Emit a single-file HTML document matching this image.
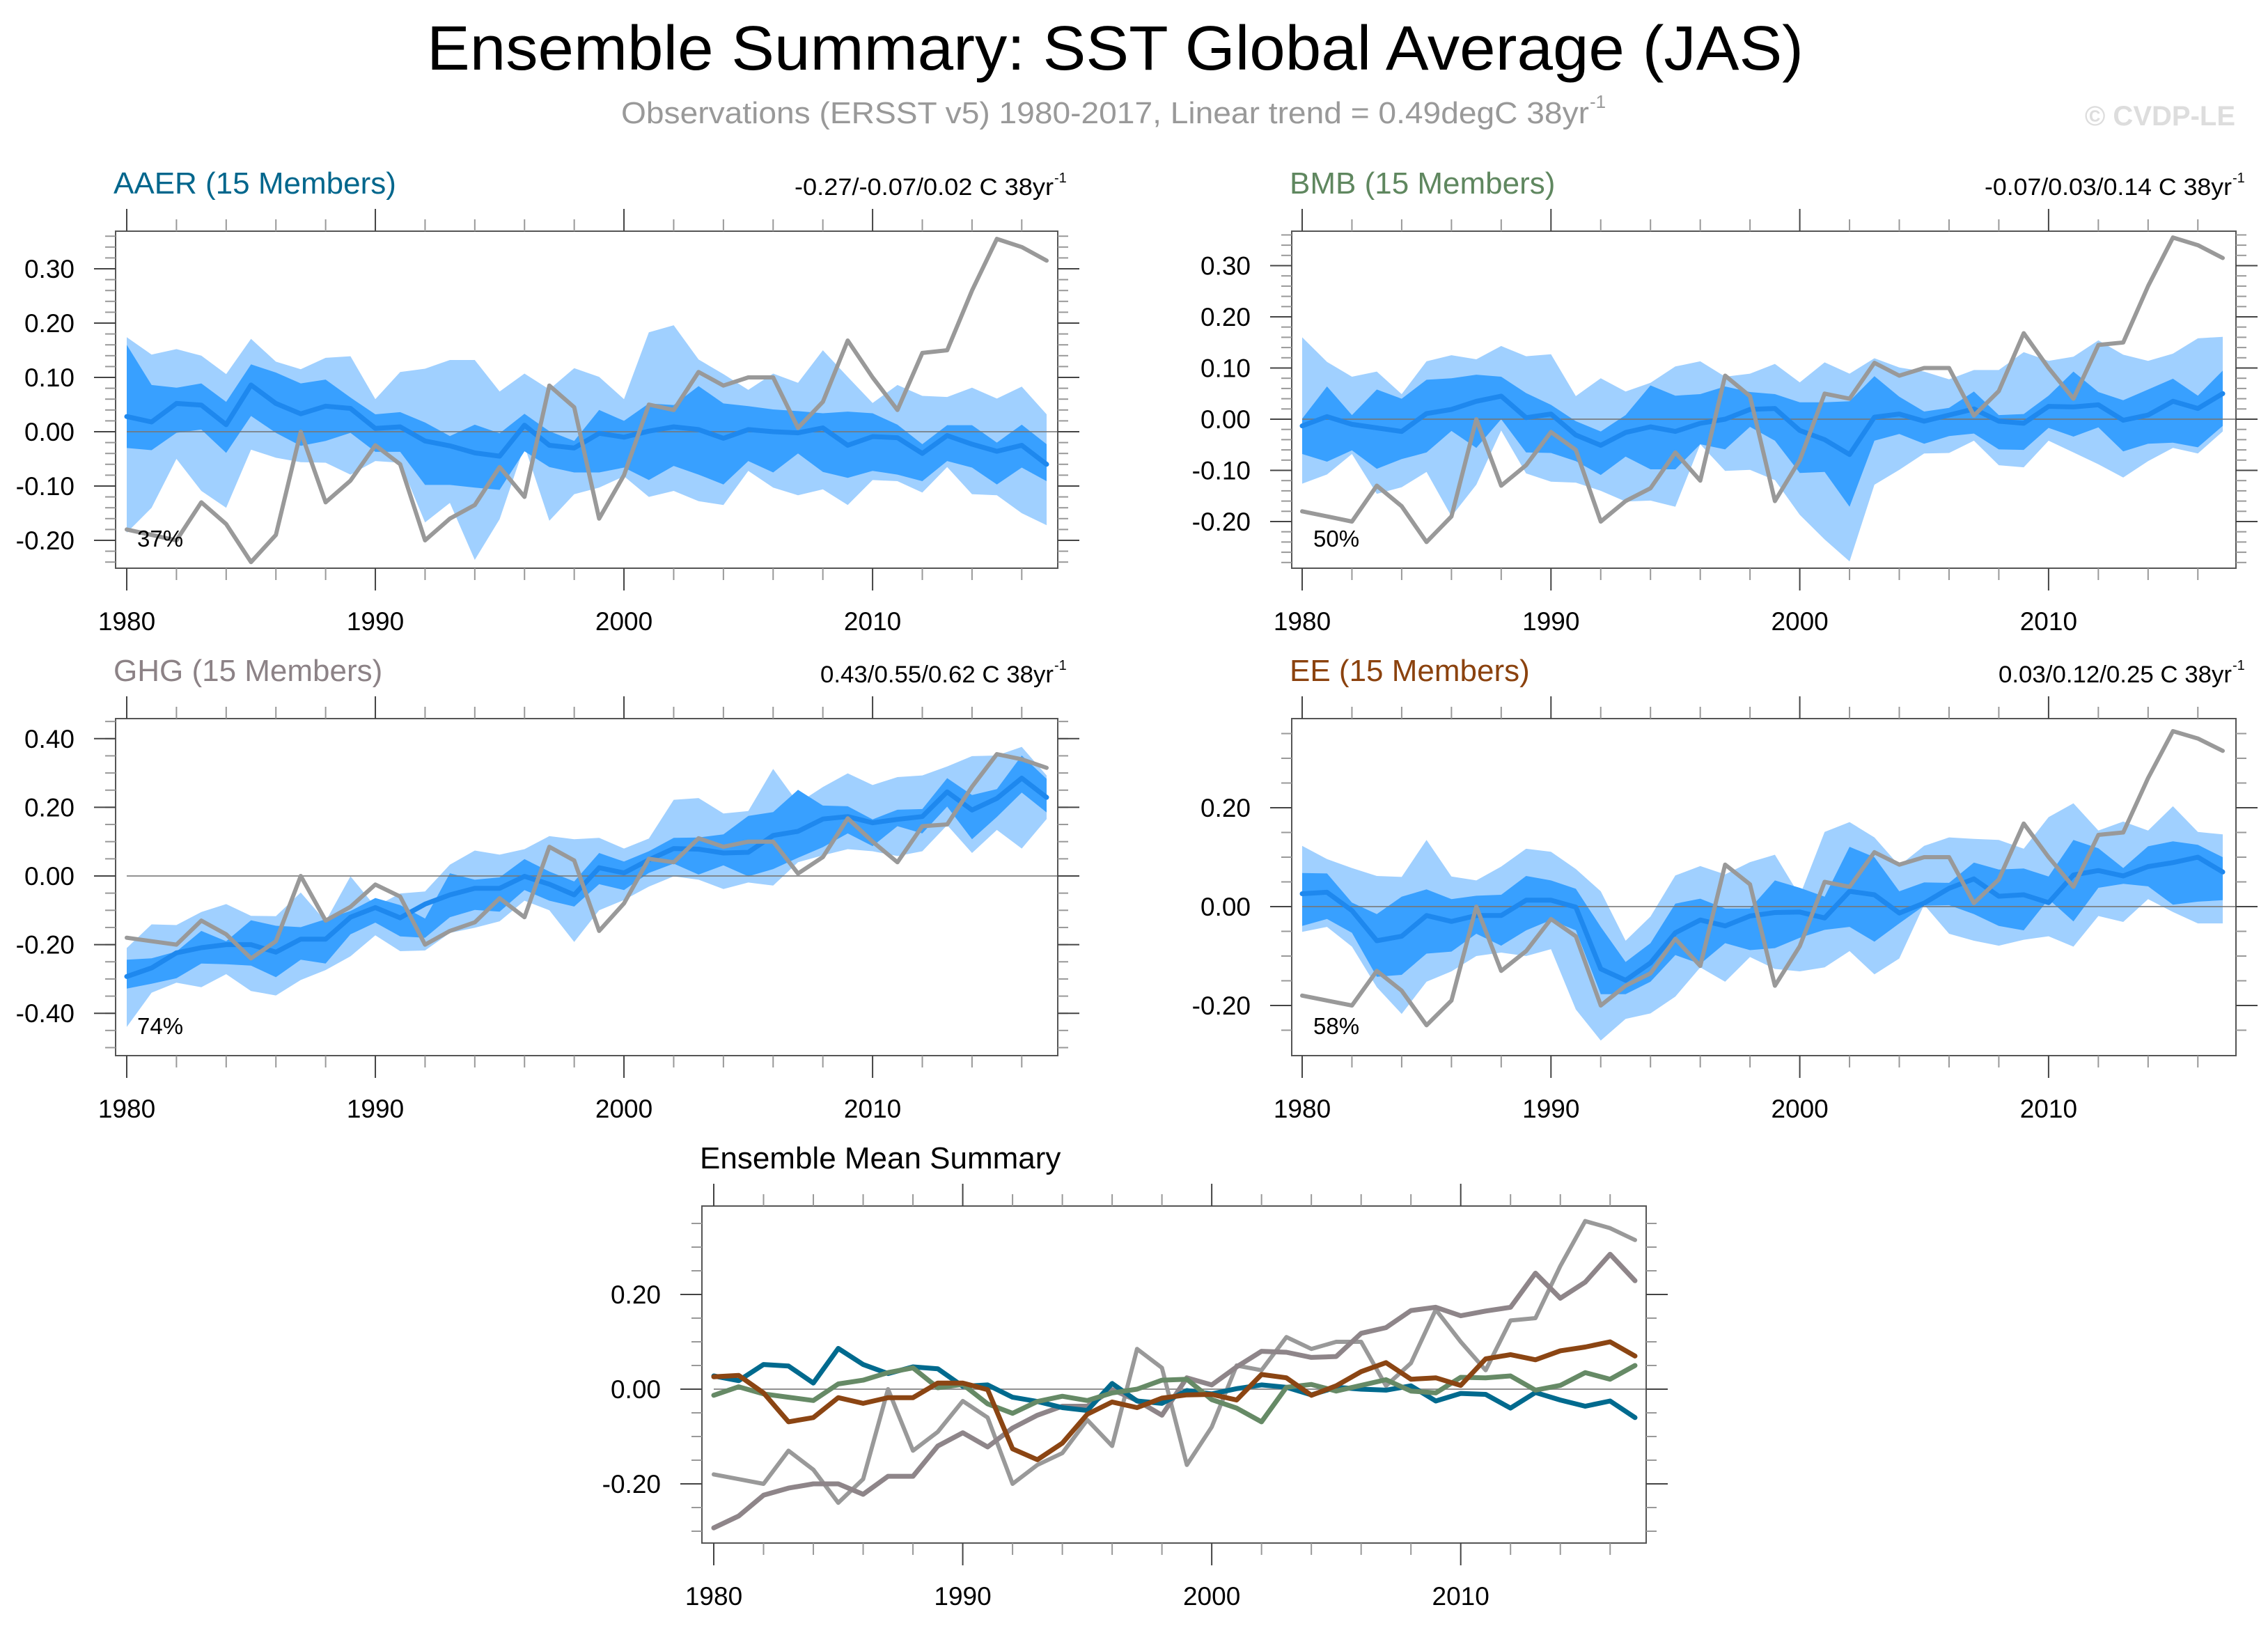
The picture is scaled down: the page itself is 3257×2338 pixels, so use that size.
<!DOCTYPE html>
<html><head><meta charset="utf-8"><title>Ensemble Summary: SST Global Average (JAS)</title>
<style>
html,body{margin:0;padding:0;background:#fff;}
svg{display:block;font-family:"Liberation Sans",sans-serif;}
</style></head>
<body>
<svg id="chart" xmlns="http://www.w3.org/2000/svg" width="3257" height="2338" viewBox="0 0 3257 2338">
<rect x="0" y="0" width="3257" height="2338" fill="#fff"/>
<text x="613" y="100" font-size="90" textLength="1977" lengthAdjust="spacingAndGlyphs" fill="#000">Ensemble Summary: SST Global Average (JAS)</text>
<text x="892" y="177" font-size="44" fill="#999" textLength="1390" lengthAdjust="spacingAndGlyphs">Observations (ERSST v5) 1980-2017, Linear trend = 0.49degC 38yr</text>
<text x="2283" y="155" font-size="26" fill="#999">-1</text>
<text x="3210" y="180" font-size="40" font-weight="bold" fill="#ddd" text-anchor="end">© CVDP-LE</text>
<g id="panels"></g>
</svg>
<script>
// ---------- data ----------
const years = [1980,1981,1982,1983,1984,1985,1986,1987,1988,1989,1990,1991,1992,1993,1994,1995,1996,1997,1998,1999,2000,2001,2002,2003,2004,2005,2006,2007,2008,2009,2010,2011,2012,2013,2014,2015,2016,2017];
const obs = [-0.18,-0.19,-0.20,-0.13,-0.17,-0.24,-0.19,0.00,-0.13,-0.09,-0.025,-0.06,-0.20,-0.16,-0.135,-0.065,-0.12,0.085,0.045,-0.16,-0.08,0.05,0.04,0.11,0.085,0.10,0.10,0.007,0.055,0.168,0.10,0.04,0.145,0.15,0.26,0.355,0.34,0.315];

const aaerMean = [0.028,0.018,0.052,0.049,0.013,0.086,0.052,0.033,0.047,0.043,0.006,0.009,-0.017,-0.026,-0.039,-0.045,0.012,-0.025,-0.03,-0.003,-0.01,0.001,0.009,0.004,-0.012,0.004,0,-0.002,0.007,-0.025,-0.009,-0.011,-0.04,-0.007,-0.023,-0.036,-0.025,-0.06];
const aaerDarkHi = [0.16,0.086,0.081,0.089,0.055,0.124,0.109,0.089,0.096,0.063,0.032,0.036,0.017,-0.008,0.013,-0.003,0.033,0.001,-0.017,0.04,0.02,0.052,0.049,0.084,0.052,0.047,0.041,0.038,0.034,0.037,0.034,0.013,-0.023,0.012,0.012,-0.02,0.013,-0.023];
const aaerDarkLo = [-0.03,-0.034,-0.002,0.004,-0.039,0.029,-0.002,-0.026,-0.017,-0.002,-0.037,-0.037,-0.098,-0.098,-0.103,-0.107,-0.036,-0.065,-0.075,-0.075,-0.066,-0.089,-0.063,-0.079,-0.097,-0.054,-0.075,-0.04,-0.074,-0.085,-0.072,-0.079,-0.091,-0.054,-0.066,-0.097,-0.066,-0.091];
const aaerLightHi = [0.174,0.142,0.152,0.14,0.106,0.171,0.129,0.115,0.136,0.139,0.06,0.11,0.116,0.132,0.132,0.074,0.107,0.078,0.117,0.101,0.06,0.183,0.196,0.133,0.106,0.077,0.107,0.09,0.15,0.101,0.053,0.086,0.066,0.064,0.081,0.061,0.083,0.032];
const aaerLightLo = [-0.186,-0.14,-0.05,-0.109,-0.14,-0.033,-0.048,-0.056,-0.057,-0.079,-0.054,-0.057,-0.167,-0.131,-0.236,-0.161,-0.026,-0.164,-0.115,-0.103,-0.082,-0.12,-0.109,-0.128,-0.135,-0.072,-0.103,-0.117,-0.106,-0.135,-0.089,-0.091,-0.112,-0.065,-0.115,-0.117,-0.15,-0.172];

const bmbMean = [-0.013,0.005,-0.01,-0.017,-0.024,0.011,0.019,0.035,0.045,0.003,0.01,-0.031,-0.051,-0.026,-0.015,-0.024,-0.008,0,0.019,0.021,-0.022,-0.04,-0.069,0.004,0.01,-0.004,0.008,0.02,-0.004,-0.008,0.025,0.024,0.028,-0.002,0.008,0.035,0.021,0.05];
const bmbDarkHi = [0.001,0.064,0.008,0.058,0.04,0.077,0.08,0.087,0.083,0.051,0.028,-0.004,-0.024,0.008,0.066,0.046,0.049,0.064,0.053,0.049,0.033,0.033,0.035,0.084,0.044,0.015,0.022,0.054,0.008,0.01,0.046,0.093,0.053,0.037,0.058,0.079,0.046,0.095];
const bmbDarkLo = [-0.068,-0.083,-0.061,-0.097,-0.078,-0.065,-0.023,-0.056,0,-0.065,-0.066,-0.082,-0.109,-0.073,-0.098,-0.098,-0.049,-0.059,-0.015,-0.042,-0.105,-0.103,-0.171,-0.042,-0.029,-0.048,-0.033,-0.028,-0.059,-0.06,-0.017,-0.034,-0.016,-0.063,-0.048,-0.046,-0.055,-0.013];
const bmbLightHi = [0.16,0.112,0.083,0.093,0.049,0.113,0.125,0.117,0.143,0.123,0.127,0.045,0.08,0.054,0.071,0.103,0.113,0.083,0.089,0.108,0.072,0.111,0.089,0.119,0.101,0.093,0.078,0.096,0.096,0.131,0.114,0.122,0.154,0.126,0.114,0.128,0.158,0.161];
const bmbLightLo = [-0.126,-0.108,-0.068,-0.146,-0.133,-0.103,-0.19,-0.128,-0.022,-0.106,-0.122,-0.124,-0.14,-0.161,-0.159,-0.171,-0.049,-0.101,-0.099,-0.119,-0.187,-0.235,-0.278,-0.128,-0.099,-0.067,-0.066,-0.042,-0.09,-0.094,-0.042,-0.065,-0.088,-0.114,-0.082,-0.056,-0.067,-0.024];

const ghgMean = [-0.293,-0.268,-0.224,-0.209,-0.2,-0.2,-0.222,-0.184,-0.184,-0.12,-0.092,-0.122,-0.082,-0.055,-0.036,-0.036,-0.001,-0.024,-0.055,0.024,0.009,0.047,0.08,0.078,0.067,0.069,0.118,0.13,0.166,0.173,0.155,0.165,0.173,0.245,0.192,0.226,0.285,0.229];
const ghgDarkHi = [-0.244,-0.24,-0.22,-0.16,-0.19,-0.129,-0.145,-0.149,-0.126,-0.102,-0.064,-0.085,-0.124,0.008,-0.011,-0.004,0.049,0.013,-0.016,0.067,0.042,0.072,0.111,0.112,0.121,0.175,0.186,0.251,0.205,0.203,0.165,0.193,0.195,0.285,0.236,0.253,0.351,0.283];
const ghgDarkLo = [-0.328,-0.314,-0.298,-0.255,-0.257,-0.261,-0.295,-0.244,-0.255,-0.17,-0.136,-0.176,-0.18,-0.12,-0.099,-0.104,-0.041,-0.072,-0.089,-0.024,-0.041,0.009,0.036,0.004,0.031,-0.001,0.02,0.053,0.084,0.124,0.087,0.145,0.124,0.202,0.107,0.172,0.243,0.185];
const ghgLightHi = [-0.21,-0.141,-0.143,-0.105,-0.082,-0.116,-0.117,-0.048,-0.132,-0.001,-0.089,-0.051,-0.045,0.033,0.074,0.062,0.078,0.116,0.107,0.111,0.08,0.109,0.222,0.227,0.182,0.189,0.312,0.212,0.259,0.299,0.265,0.288,0.293,0.319,0.349,0.351,0.376,0.293];
const ghgLightLo = [-0.44,-0.34,-0.311,-0.324,-0.286,-0.335,-0.348,-0.303,-0.274,-0.234,-0.173,-0.219,-0.217,-0.166,-0.151,-0.132,-0.072,-0.1,-0.192,-0.1,-0.07,-0.031,-0.001,-0.011,-0.038,-0.019,-0.028,0.04,0.06,0.078,0.072,0.058,0.072,0.148,0.067,0.134,0.08,0.166];

const eeMean = [0.026,0.029,-0.008,-0.069,-0.06,-0.018,-0.03,-0.018,-0.018,0.013,0.013,-0.001,-0.126,-0.149,-0.114,-0.053,-0.027,-0.039,-0.019,-0.012,-0.011,-0.023,0.031,0.024,-0.013,0.007,0.037,0.056,0.021,0.024,0.008,0.064,0.073,0.062,0.081,0.089,0.1,0.07];
const eeDarkHi = [0.068,0.067,0.008,-0.015,0.02,0.035,0.015,0.022,0.024,0.062,0.053,0.036,-0.041,-0.112,-0.074,0.006,0.016,-0.004,-0.004,0.053,0.038,0.02,0.121,0.1,0.031,0.049,0.048,0.089,0.075,0.077,0.061,0.135,0.118,0.078,0.122,0.132,0.125,0.1];
const eeDarkLo = [-0.039,-0.025,-0.053,-0.142,-0.138,-0.095,-0.091,-0.055,-0.079,-0.048,-0.027,-0.048,-0.177,-0.177,-0.152,-0.098,-0.116,-0.074,-0.088,-0.084,-0.063,-0.047,-0.041,-0.071,-0.034,0.002,0.003,-0.015,-0.039,-0.048,0.015,-0.03,0.038,0.046,0.041,0.004,0.01,0.013];
const eeLightHi = [0.123,0.096,0.078,0.062,0.06,0.135,0.061,0.053,0.081,0.117,0.111,0.076,0.031,-0.069,-0.02,0.063,0.082,0.065,0.09,0.105,0.022,0.151,0.171,0.14,0.083,0.123,0.14,0.137,0.135,0.117,0.181,0.209,0.154,0.172,0.154,0.203,0.151,0.146];
const eeLightLo = [-0.051,-0.041,-0.081,-0.163,-0.217,-0.152,-0.131,-0.1,-0.093,-0.1,-0.086,-0.208,-0.271,-0.227,-0.216,-0.182,-0.123,-0.152,-0.102,-0.126,-0.131,-0.123,-0.09,-0.137,-0.105,0.004,-0.055,-0.069,-0.079,-0.067,-0.06,-0.081,-0.019,-0.031,0.015,-0.011,-0.034,-0.034];

const xTickLabels = ["1980","1990","2000","2010"];
const aaerTicks = [-0.2,-0.1,0,0.1,0.2,0.3];
const bmbTicks = [-0.2,-0.1,0,0.1,0.2,0.3];
const ghgTicks = [-0.4,-0.2,0,0.2,0.4];
const eeTicks = [-0.2,0,0.2];
const sumTicks = [-0.2,0,0.2];

// ---------- drawing ----------
const NS = "http://www.w3.org/2000/svg";
const root = document.getElementById('panels');
function mk(tag, attrs, parent){
  const e = document.createElementNS(NS, tag);
  for (const k in attrs) e.setAttribute(k, attrs[k]);
  (parent||root).appendChild(e);
  return e;
}
function makeScales(cfg){
  const xs = y => cfg.x0 + (y - 1980) * (cfg.x1 - cfg.x0) / 37;
  const ys = v => cfg.zeroY - v * cfg.perUnit;
  return [xs, ys];
}
function drawAxes(g, cfg, xs, ys, ticks, minorStep){
  const L = cfg.fx0, R = cfg.fx1, T = cfg.fy0, B = cfg.fy1;
  const vmin = (cfg.zeroY - B) / cfg.perUnit, vmax = (cfg.zeroY - T) / cfg.perUnit;
  for (let k = Math.ceil(vmin / minorStep - 1e-6); k * minorStep <= vmax + 1e-6; k++) {
    const v = k * minorStep, y = ys(v);
    if (y < T + 3 || y > B - 3) continue;
    const t1 = mk('line', {x1: L - 15, x2: L, y1: y, y2: y, stroke: '#999', 'stroke-width': 2}, g);
    
    
    const t2 = mk('line', {x1: R, x2: R + 15, y1: y, y2: y, stroke: '#999', 'stroke-width': 2}, g);
    
    
  }
  ticks.forEach(v => {
    const y = ys(v);
    const t1 = mk('line', {x1: L - 31, x2: L, y1: y, y2: y, stroke: '#444', 'stroke-width': 2}, g);
    
    
    const t2 = mk('line', {x1: R, x2: R + 31, y1: y, y2: y, stroke: '#444', 'stroke-width': 2}, g);
    
    
    const lb = mk('text', {x: L - 59, y: y + 13, 'font-size': 37, 'text-anchor': 'end', fill: '#000'}, g);
    
    
    lb.textContent = v.toFixed(2);
  });
  for (let yr = 1980; yr <= 2017; yr += 2) {
    const x = xs(yr), major = (yr % 10 === 0);
    const len = major ? 32 : 17, col = major ? '#444' : '#999';
    const a = mk('line', {x1: x, x2: x, y1: T - len, y2: T, stroke: col, 'stroke-width': 2}, g);
    
    
    const b = mk('line', {x1: x, x2: x, y1: B, y2: B + len, stroke: col, 'stroke-width': 2}, g);
    
    
  }
  xTickLabels.forEach(s => {
    const lb = mk('text', {x: xs(+s), y: B + 89, 'font-size': 37, 'text-anchor': 'middle', fill: '#000'}, g);
    
    
    lb.textContent = s;
  });
}
function poly(xs, ys, hi, lo){
  const pts = [];
  years.forEach((yr, i) => pts.push(xs(yr).toFixed(1) + ',' + ys(hi[i]).toFixed(1)));
  for (let i = years.length - 1; i >= 0; i--) pts.push(xs(years[i]).toFixed(1) + ',' + ys(lo[i]).toFixed(1));
  return pts.join(' ');
}
function line(xs, ys, arr){
  return years.map((yr, i) => xs(yr).toFixed(1) + ',' + ys(arr[i]).toFixed(1)).join(' ');
}
function panel(cfg){
  const g = mk('g', {});
  
  
  const [xs, ys] = makeScales(cfg);
  const clipId = 'clip-' + cfg.name;
  const cp = mk('clipPath', {id: clipId}, g);
  mk('rect', {x: cfg.fx0, y: cfg.fy0, width: cfg.fx1 - cfg.fx0, height: cfg.fy1 - cfg.fy0}, cp);
  const plot = mk('g', {'clip-path': 'url(#' + clipId + ')'}, g);
  if (cfg.bands) {
    const l = mk('polygon', {points: poly(xs, ys, cfg.bands[2], cfg.bands[3]), fill: '#a0d0ff'}, plot);
    
    
    const d = mk('polygon', {points: poly(xs, ys, cfg.bands[0], cfg.bands[1]), fill: '#38a0ff'}, plot);
    
    
  }
  const z = mk('line', {x1: xs(1980), x2: cfg.fx1, y1: ys(0), y2: ys(0), stroke: '#777', 'stroke-width': 2, 'stroke-opacity': 0.8}, plot);
  
  
  cfg.lines.forEach(ln => {
    const p = mk('polyline', {points: line(xs, ys, ln.data), fill: 'none', stroke: ln.color, 'stroke-width': ln.w, 'stroke-linejoin': 'round', 'stroke-linecap': 'round'}, plot);
    
    
  });
  const fr = mk('rect', {x: cfg.fx0, y: cfg.fy0, width: cfg.fx1 - cfg.fx0, height: cfg.fy1 - cfg.fy0, fill: 'none', stroke: '#555', 'stroke-width': 2}, g);
  
  
  drawAxes(g, cfg, xs, ys, cfg.ticks, cfg.minor);
  const t = mk('text', {x: cfg.fx0 - 3, y: cfg.fy0 - 54, 'font-size': 44, fill: cfg.titleColor}, g);
  
  
  t.textContent = cfg.title;
  if (cfg.stats) {
    const s = mk('text', {x: cfg.fx1 - 6, y: cfg.fy0 - 52, 'font-size': 34, fill: '#000', 'text-anchor': 'end', textLength: cfg.statsW, lengthAdjust: 'spacingAndGlyphs'}, g);
    
    
    s.textContent = cfg.stats + ' C 38yr';
    const sp = mk('text', {x: cfg.fx1 - 5, y: cfg.fy0 - 70, 'font-size': 20, fill: '#000'}, g);
    
    
    sp.textContent = '-1';
  }
  if (cfg.pct) {
    const p = mk('text', {x: cfg.fx0 + 31, y: cfg.fy1 - 31, 'font-size': 33, fill: '#000'}, g);
    
    
    p.textContent = cfg.pct;
  }
}
function obsLine(){ return {name: 'observations-line', color: '#999', w: 6, data: obs}; }

panel({name: 'aaer-panel', title: 'AAER (15 Members)', titleColor: '#00668c', stats: '-0.27/-0.07/0.02', statsW: 372, pct: '37%',
  fx0: 166, fx1: 1519, fy0: 332, fy1: 816, x0: 182, x1: 1503, zeroY: 620, perUnit: 780,
  ticks: aaerTicks, minor: 0.02, bands: [aaerDarkHi, aaerDarkLo, aaerLightHi, aaerLightLo],
  lines: [{name: 'aaer-mean-line', color: '#1e88ee', w: 7, data: aaerMean}, obsLine()]});
panel({name: 'bmb-panel', title: 'BMB (15 Members)', titleColor: '#5f875f', stats: '-0.07/0.03/0.14', statsW: 355, pct: '50%',
  fx0: 1855, fx1: 3211, fy0: 332, fy1: 816, x0: 1870, x1: 3192, zeroY: 602, perUnit: 735,
  ticks: bmbTicks, minor: 0.02, bands: [bmbDarkHi, bmbDarkLo, bmbLightHi, bmbLightLo],
  lines: [{name: 'bmb-mean-line', color: '#1e88ee', w: 7, data: bmbMean}, obsLine()]});
panel({name: 'ghg-panel', title: 'GHG (15 Members)', titleColor: '#8c8286', stats: '0.43/0.55/0.62', statsW: 335, pct: '74%',
  fx0: 166, fx1: 1519, fy0: 1032, fy1: 1516, x0: 182, x1: 1503, zeroY: 1258, perUnit: 493,
  ticks: ghgTicks, minor: 0.05, bands: [ghgDarkHi, ghgDarkLo, ghgLightHi, ghgLightLo],
  lines: [{name: 'ghg-mean-line', color: '#1e88ee', w: 7, data: ghgMean}, obsLine()]});
panel({name: 'ee-panel', title: 'EE (15 Members)', titleColor: '#8b420e', stats: '0.03/0.12/0.25', statsW: 335, pct: '58%',
  fx0: 1855, fx1: 3211, fy0: 1032, fy1: 1516, x0: 1870, x1: 3192, zeroY: 1302, perUnit: 710,
  ticks: eeTicks, minor: 0.05, bands: [eeDarkHi, eeDarkLo, eeLightHi, eeLightLo],
  lines: [{name: 'ee-mean-line', color: '#1e88ee', w: 7, data: eeMean}, obsLine()]});
panel({name: 'ensemble-mean-summary-panel', title: 'Ensemble Mean Summary', titleColor: '#000',
  fx0: 1008, fx1: 2364, fy0: 1732, fy1: 2216, x0: 1025, x1: 2348, zeroY: 1995, perUnit: 680,
  ticks: sumTicks, minor: 0.05, bands: null,
  lines: [obsLine(),
          {name: 'ghg-mean-summary-line', color: '#8e8589', w: 7, data: ghgMean},
          {name: 'aaer-mean-summary-line', color: '#006a8e', w: 7, data: aaerMean},
          {name: 'bmb-mean-summary-line', color: '#668a66', w: 7, data: bmbMean},
          {name: 'ee-mean-summary-line', color: '#8b4513', w: 7, data: eeMean}]});
</script>
</body></html>
